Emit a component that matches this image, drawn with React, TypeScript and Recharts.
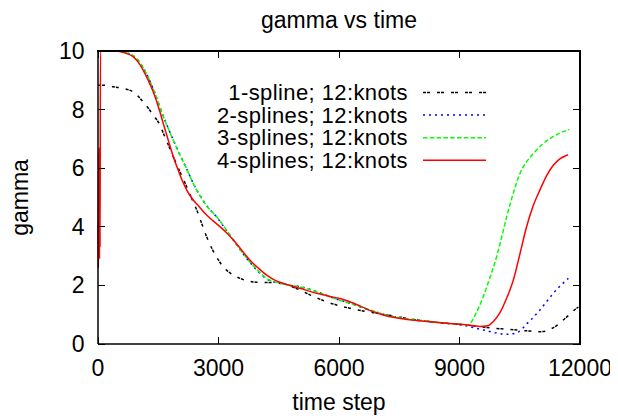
import React from 'react';
import { LineChart, Line, XAxis, YAxis } from 'recharts';

const xTicks = [0, 3000, 6000, 9000, 12000];
const yTicks = [0, 2, 4, 6, 8, 10];

const oneSpline = [
  { t: 0, g: 8.83 }, { t: 130, g: 8.83 }, { t: 380, g: 8.78 }, { t: 630, g: 8.72 },
  { t: 880, g: 8.6 }, { t: 1128, g: 8.26 }, { t: 1377, g: 7.81 }, { t: 1543, g: 7.47 },
  { t: 1630, g: 7.18 }, { t: 1750, g: 6.8 }, { t: 1875, g: 6.39 }, { t: 2050, g: 5.85 },
  { t: 2210, g: 5.36 }, { t: 2330, g: 4.98 }, { t: 2460, g: 4.57 }, { t: 2580, g: 4.12 },
  { t: 2705, g: 3.66 }, { t: 2850, g: 3.22 }, { t: 3000, g: 2.86 }, { t: 3200, g: 2.52 },
  { t: 3360, g: 2.36 }, { t: 3535, g: 2.24 }, { t: 3700, g: 2.16 }, { t: 3870, g: 2.12 },
  { t: 4100, g: 2.1 }, { t: 4365, g: 2.1 }, { t: 4615, g: 2.06 }, { t: 4800, g: 1.97 },
  { t: 5030, g: 1.84 }, { t: 5350, g: 1.63 }, { t: 5690, g: 1.44 }, { t: 6000, g: 1.31 },
  { t: 6270, g: 1.22 }, { t: 6550, g: 1.14 }, { t: 6850, g: 1.07 }, { t: 7200, g: 0.99 },
  { t: 7500, g: 0.92 }, { t: 7900, g: 0.83 }, { t: 8350, g: 0.75 }, { t: 8750, g: 0.7 },
  { t: 9170, g: 0.65 }, { t: 9450, g: 0.6 }, { t: 9760, g: 0.55 }, { t: 10255, g: 0.5 },
  { t: 10670, g: 0.45 }, { t: 11000, g: 0.42 }, { t: 11150, g: 0.44 }, { t: 11250, g: 0.5 },
  { t: 11420, g: 0.63 }, { t: 11585, g: 0.82 }, { t: 11750, g: 1.02 }, { t: 11915, g: 1.22 },
  { t: 11960, g: 1.26 },
];

const twoSplines = [
  { t: 0, g: 10 }, { t: 400, g: 10 }, { t: 550, g: 9.99 }, { t: 700, g: 9.94 },
  { t: 880, g: 9.83 }, { t: 1000, g: 9.68 }, { t: 1128, g: 9.42 }, { t: 1250, g: 9.1 },
  { t: 1400, g: 8.62 }, { t: 1600, g: 7.86 }, { t: 1750, g: 7.36 }, { t: 1875, g: 6.96 },
  { t: 2050, g: 6.43 }, { t: 2200, g: 6.0 }, { t: 2330, g: 5.6 }, { t: 2457, g: 5.26 },
  { t: 2580, g: 4.98 }, { t: 2700, g: 4.73 }, { t: 2830, g: 4.52 }, { t: 2955, g: 4.33 },
  { t: 3150, g: 3.97 }, { t: 3370, g: 3.55 }, { t: 3580, g: 3.14 }, { t: 3784, g: 2.78 },
  { t: 4000, g: 2.46 }, { t: 4200, g: 2.22 }, { t: 4400, g: 2.11 }, { t: 4614, g: 2.05 },
  { t: 4800, g: 2.0 }, { t: 5030, g: 1.96 }, { t: 5445, g: 1.79 }, { t: 5750, g: 1.63 },
  { t: 6025, g: 1.49 }, { t: 6250, g: 1.4 }, { t: 6520, g: 1.27 }, { t: 6800, g: 1.14 },
  { t: 7100, g: 1.02 }, { t: 7500, g: 0.9 }, { t: 7935, g: 0.81 }, { t: 8350, g: 0.75 },
  { t: 8760, g: 0.69 }, { t: 9000, g: 0.66 }, { t: 9170, g: 0.62 }, { t: 9400, g: 0.54 },
  { t: 9590, g: 0.48 }, { t: 9900, g: 0.38 }, { t: 10175, g: 0.33 }, { t: 10420, g: 0.38 },
  { t: 10550, g: 0.5 }, { t: 10670, g: 0.68 }, { t: 10830, g: 0.9 }, { t: 11003, g: 1.16 },
  { t: 11170, g: 1.45 }, { t: 11335, g: 1.73 }, { t: 11520, g: 2.0 }, { t: 11710, g: 2.24 },
];

const threeSplines = [
  { t: 0, g: 10 }, { t: 400, g: 10 }, { t: 550, g: 9.99 }, { t: 700, g: 9.94 },
  { t: 880, g: 9.83 }, { t: 1000, g: 9.68 }, { t: 1128, g: 9.42 }, { t: 1250, g: 9.1 },
  { t: 1400, g: 8.62 }, { t: 1600, g: 7.85 }, { t: 1750, g: 7.35 }, { t: 1875, g: 6.95 },
  { t: 2050, g: 6.42 }, { t: 2200, g: 6.0 }, { t: 2330, g: 5.6 }, { t: 2457, g: 5.25 },
  { t: 2580, g: 4.97 }, { t: 2700, g: 4.72 }, { t: 2830, g: 4.52 }, { t: 2955, g: 4.34 },
  { t: 3150, g: 3.98 }, { t: 3370, g: 3.55 }, { t: 3580, g: 3.15 }, { t: 3784, g: 2.8 },
  { t: 4000, g: 2.48 }, { t: 4200, g: 2.24 }, { t: 4400, g: 2.12 }, { t: 4614, g: 2.05 },
  { t: 4800, g: 2.0 }, { t: 5030, g: 1.95 }, { t: 5445, g: 1.78 }, { t: 5750, g: 1.63 },
  { t: 6025, g: 1.49 }, { t: 6250, g: 1.4 }, { t: 6520, g: 1.28 }, { t: 6800, g: 1.15 },
  { t: 7100, g: 1.02 }, { t: 7500, g: 0.9 }, { t: 7935, g: 0.82 }, { t: 8350, g: 0.76 },
  { t: 8760, g: 0.7 }, { t: 9000, g: 0.67 }, { t: 9220, g: 0.65 }, { t: 9400, g: 1.02 },
  { t: 9590, g: 1.61 }, { t: 9760, g: 2.28 }, { t: 9925, g: 2.98 }, { t: 10050, g: 3.65 },
  { t: 10175, g: 4.34 }, { t: 10340, g: 5.15 }, { t: 10505, g: 5.82 }, { t: 10670, g: 6.22 },
  { t: 10840, g: 6.5 }, { t: 11050, g: 6.8 }, { t: 11250, g: 7.01 }, { t: 11500, g: 7.2 },
  { t: 11735, g: 7.32 },
];

const fourSplines = [
  { t: 0, g: 4.2 }, { t: 8, g: 2.6 }, { t: 15, g: 6.5 }, { t: 22, g: 3.0 },
  { t: 30, g: 6.7 }, { t: 38, g: 2.9 }, { t: 45, g: 5.6 }, { t: 52, g: 3.3 },
  { t: 60, g: 10 }, { t: 400, g: 10 }, { t: 550, g: 9.98 }, { t: 700, g: 9.92 },
  { t: 880, g: 9.8 }, { t: 1000, g: 9.62 }, { t: 1128, g: 9.34 }, { t: 1250, g: 9.0 },
  { t: 1377, g: 8.6 }, { t: 1543, g: 7.92 }, { t: 1626, g: 7.52 }, { t: 1750, g: 6.95 },
  { t: 1875, g: 6.39 }, { t: 2000, g: 5.92 }, { t: 2100, g: 5.57 }, { t: 2207, g: 5.26 },
  { t: 2350, g: 4.95 }, { t: 2500, g: 4.72 }, { t: 2705, g: 4.4 }, { t: 2850, g: 4.22 },
  { t: 3000, g: 4.05 }, { t: 3200, g: 3.8 }, { t: 3370, g: 3.55 }, { t: 3580, g: 3.2 },
  { t: 3784, g: 2.86 }, { t: 4000, g: 2.58 }, { t: 4200, g: 2.35 }, { t: 4400, g: 2.18 },
  { t: 4614, g: 2.07 }, { t: 4800, g: 1.99 }, { t: 5030, g: 1.9 }, { t: 5445, g: 1.73 },
  { t: 5750, g: 1.63 }, { t: 6025, g: 1.55 }, { t: 6250, g: 1.45 }, { t: 6520, g: 1.3 },
  { t: 6800, g: 1.13 }, { t: 7100, g: 0.99 }, { t: 7500, g: 0.88 }, { t: 7935, g: 0.8 },
  { t: 8350, g: 0.75 }, { t: 8760, g: 0.7 }, { t: 9200, g: 0.65 }, { t: 9500, g: 0.6 },
  { t: 9700, g: 0.62 }, { t: 9850, g: 0.78 }, { t: 10000, g: 1.05 }, { t: 10170, g: 1.55 },
  { t: 10340, g: 2.18 }, { t: 10500, g: 3.05 }, { t: 10670, g: 4.0 }, { t: 10830, g: 4.7 },
  { t: 11000, g: 5.25 }, { t: 11170, g: 5.75 }, { t: 11335, g: 6.1 }, { t: 11500, g: 6.32 },
  { t: 11668, g: 6.44 }, { t: 11700, g: 6.46 },
];

const seriesNames = [
  '1-spline; 12:knots',
  '2-splines; 12:knots',
  '3-splines; 12:knots',
  '4-splines; 12:knots',
];
const seriesData = [oneSpline, twoSplines, threeSplines, fourSplines];
const seriesColors = ['#000000', '#0000ff', '#00ff00', '#ff0000'];
const seriesDash = ['3 1 3 7', '2 4', '4.5 2.3', undefined];

const FONT = '"Liberation Sans", Arial, Helvetica, sans-serif';
const W = 610;
const H = 410;
const MARGIN = { top: 43, right: 38, left: 0, bottom: 0 };
const Y_AXIS_W = 90;
const X_AXIS_H = 74;
const X_MIN = 0;
const X_MAX = 12000;
const Y_MIN = 0;
const Y_MAX = 10;
const PLOT_L = MARGIN.left + Y_AXIS_W;
const PLOT_T = MARGIN.top;
const PLOT_W = W - MARGIN.left - MARGIN.right - Y_AXIS_W;
const PLOT_H = H - MARGIN.top - MARGIN.bottom - X_AXIS_H;
const PLOT_R = PLOT_L + PLOT_W;
const PLOT_B = PLOT_T + PLOT_H;
const TICK_LEN = 7;
const FS = 23;

// linear maps matching the chart's axis ranges (used only for the frame & inward tick marks)
const sx = (v: number) => PLOT_L + ((v - X_MIN) / (X_MAX - X_MIN)) * PLOT_W;
const sy = (v: number) => PLOT_B - ((v - Y_MIN) / (Y_MAX - Y_MIN)) * PLOT_H;

const BottomTick = (props: any) => {
  const { x, y, payload } = props;
  return (
    <text x={x} y={y + 31.5} textAnchor="middle" fontSize={FS} fontFamily={FONT} fill="#000">
      {payload.value}
    </text>
  );
};

const LeftTick = (props: any) => {
  const { x, y, payload } = props;
  return (
    <text x={x - 13.5} y={y + 8} textAnchor="end" fontSize={FS} fontFamily={FONT} fill="#000">
      {payload.value}
    </text>
  );
};

const markStyle: React.CSSProperties = { position: 'absolute', background: '#000', pointerEvents: 'none' };

export default function App() {
  return (
    <div style={{ position: 'relative', width: W, height: H, fontFamily: FONT }}>
      <LineChart width={W} height={H} margin={MARGIN}>
        <XAxis
          dataKey="t"
          type="number"
          domain={[X_MIN, X_MAX]}
          ticks={xTicks}
          height={X_AXIS_H}
          tickSize={0}
          tickMargin={0}
          tickLine={false}
          tick={<BottomTick />}
          axisLine={{ stroke: '#000', strokeWidth: 1.5 }}
          label={{ value: 'time step', position: 'insideBottom', offset: 8.5, fill: '#000', fontSize: FS, fontFamily: FONT }}
        />
        <YAxis
          type="number"
          domain={[Y_MIN, Y_MAX]}
          ticks={yTicks}
          width={Y_AXIS_W}
          tickSize={0}
          tickMargin={0}
          tickLine={false}
          tick={<LeftTick />}
          axisLine={{ stroke: '#000', strokeWidth: 1.5 }}
          label={{ value: 'gamma', angle: -90, position: 'insideLeft', offset: 12, fill: '#000', fontSize: FS, fontFamily: FONT, style: { textAnchor: 'middle' } }}
        />
        {seriesData.map((d, i) => (
          <Line
            key={seriesNames[i]}
            id={'series-' + i}
            data={d}
            dataKey="g"
            name={seriesNames[i]}
            type="monotone"
            stroke={seriesColors[i]}
            strokeWidth={1.5}
            strokeDasharray={seriesDash[i]}
            dot={false}
            activeDot={false}
            isAnimationActive={false}
          />
        ))}
      </LineChart>
      {/* top and right frame edges */}
      <div style={{ ...markStyle, left: PLOT_L - 1, top: PLOT_T - 1, width: PLOT_W + 2, height: 2 }} />
      <div style={{ ...markStyle, left: PLOT_R - 1, top: PLOT_T - 1, width: 2, height: PLOT_H + 2 }} />
      {/* inward tick marks on all four sides */}
      {xTicks.map((v) => (
        <React.Fragment key={'xt' + v}>
          <div style={{ ...markStyle, left: sx(v) - 0.5, top: PLOT_B - TICK_LEN, width: 1, height: TICK_LEN }} />
          <div style={{ ...markStyle, left: sx(v) - 0.5, top: PLOT_T, width: 1, height: TICK_LEN }} />
        </React.Fragment>
      ))}
      {yTicks.map((v) => (
        <React.Fragment key={'yt' + v}>
          <div style={{ ...markStyle, left: PLOT_L, top: sy(v) - 0.5, width: TICK_LEN, height: 1 }} />
          <div style={{ ...markStyle, left: PLOT_R - TICK_LEN, top: sy(v) - 0.5, width: TICK_LEN, height: 1 }} />
        </React.Fragment>
      ))}
      <svg
        width={W}
        height={H}
        style={{ position: 'absolute', left: 0, top: 0, pointerEvents: 'none' }}
      >
        <text x={331} y={19.5} textAnchor="middle" fontSize={FS} fontFamily={FONT} fill="#000">
          gamma vs time
        </text>
        {seriesNames.map((n, i) => {
          const cy = 84.5 + 22.6 * i;
          return (
            <g key={n}>
              <text
                x={400}
                y={cy + 7.5}
                textAnchor="end"
                fontSize={22}
                letterSpacing={0.4}
                fontFamily={FONT}
                fill="#000"
              >
                {n}
              </text>
              <line
                x1={415}
                x2={478}
                y1={cy}
                y2={cy}
                stroke={seriesColors[i]}
                strokeWidth={1.5}
                strokeDasharray={seriesDash[i]}
              />
            </g>
          );
        })}
      </svg>
    </div>
  );
}
